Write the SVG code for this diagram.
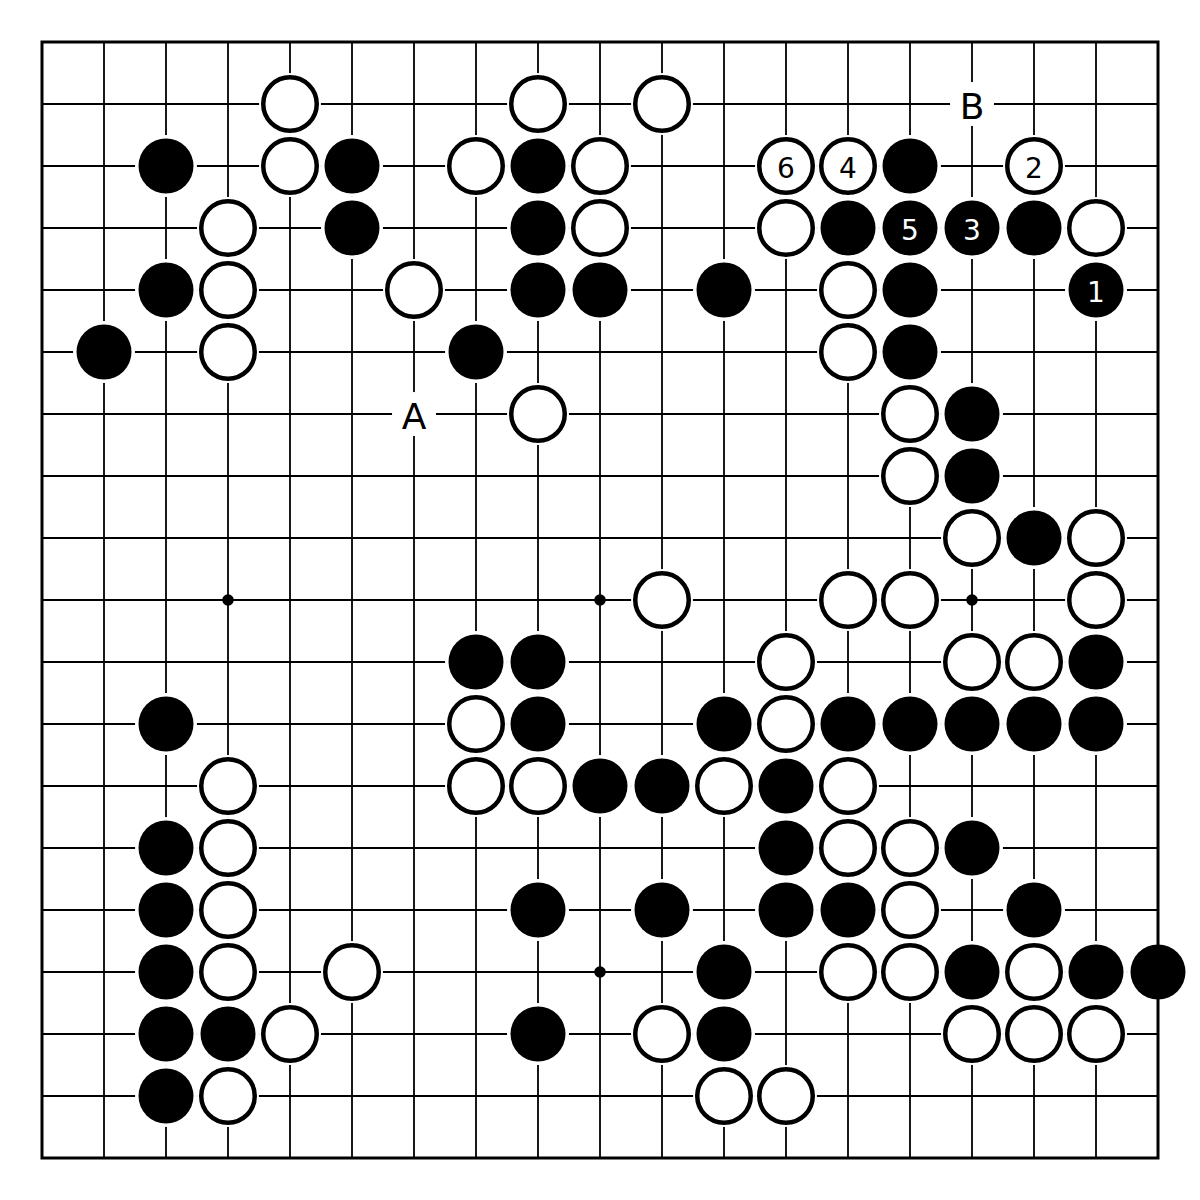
<svg xmlns="http://www.w3.org/2000/svg" xmlns:xlink="http://www.w3.org/1999/xlink" width="1200" height="1200" viewBox="0 0 1200 1200">
<style>
.grid{stroke:#000;stroke-width:1.8;fill:none}
.border{stroke:#000;stroke-width:3;fill:none}
.h{fill:#fff}
.bk{fill:#000}
.wt{fill:#fff;stroke:#000;stroke-width:4.5}
.star{fill:#000}
.num{font-family:"DejaVu Sans",Verdana,sans-serif;font-size:28px;text-anchor:middle}
.nb{fill:#fff}
.nw{fill:#000}
.lbl{font-family:"DejaVu Sans",Verdana,sans-serif;font-size:36px;text-anchor:middle;fill:#000}
</style>
<defs>
<g id="bs"><circle r="31" class="h"/><circle r="27.5" class="bk"/></g>
<g id="ws"><circle r="31" class="h"/><circle r="26.75" class="wt"/></g>
</defs>
<rect width="1200" height="1200" fill="#fff"/>
<g id="connectors">
<path class="grid" d="M104 42V1158M166 42V1158M228 42V1158M290 42V1158M352 42V1158M414 42V1158M476 42V1158M538 42V1158M600 42V1158M662 42V1158M724 42V1158M786 42V1158M848 42V1158M910 42V1158M972 42V1158M1034 42V1158M1096 42V1158M42 104H1158M42 166H1158M42 228H1158M42 290H1158M42 352H1158M42 414H1158M42 476H1158M42 538H1158M42 600H1158M42 662H1158M42 724H1158M42 786H1158M42 848H1158M42 910H1158M42 972H1158M42 1034H1158M42 1096H1158"/>
<circle class="star" cx="228" cy="600" r="5.8"/>
<circle class="star" cx="600" cy="600" r="5.8"/>
<circle class="star" cx="972" cy="600" r="5.8"/>
<circle class="star" cx="600" cy="972" r="5.8"/>
</g>
<g id="label-A"><circle cx="414" cy="414" r="22" class="h"/><text class="lbl" x="414" y="429">A</text></g>
<g id="label-B"><circle cx="972" cy="104" r="22" class="h"/><text class="lbl" x="972" y="119">B</text></g>
<g id="stones">
<g id="w-4-1"><use href="#ws" x="290" y="104"/></g>
<g id="w-8-1"><use href="#ws" x="538" y="104"/></g>
<g id="w-10-1"><use href="#ws" x="662" y="104"/></g>

<g id="b-2-2"><use href="#bs" x="166" y="166"/></g>
<g id="w-4-2"><use href="#ws" x="290" y="166"/></g>
<g id="b-5-2"><use href="#bs" x="352" y="166"/></g>
<g id="w-7-2"><use href="#ws" x="476" y="166"/></g>
<g id="b-8-2"><use href="#bs" x="538" y="166"/></g>
<g id="w-9-2"><use href="#ws" x="600" y="166"/></g>
<g id="w-12-2"><use href="#ws" x="786" y="166"/><text class="num nw" x="786" y="178">6</text></g>
<g id="w-13-2"><use href="#ws" x="848" y="166"/><text class="num nw" x="848" y="178">4</text></g>
<g id="b-14-2"><use href="#bs" x="910" y="166"/></g>
<g id="w-16-2"><use href="#ws" x="1034" y="166"/><text class="num nw" x="1034" y="178">2</text></g>

<g id="w-3-3"><use href="#ws" x="228" y="228"/></g>
<g id="b-5-3"><use href="#bs" x="352" y="228"/></g>
<g id="b-8-3"><use href="#bs" x="538" y="228"/></g>
<g id="w-9-3"><use href="#ws" x="600" y="228"/></g>
<g id="w-12-3"><use href="#ws" x="786" y="228"/></g>
<g id="b-13-3"><use href="#bs" x="848" y="228"/></g>
<g id="b-14-3"><use href="#bs" x="910" y="228"/><text class="num nb" x="910" y="240">5</text></g>
<g id="b-15-3"><use href="#bs" x="972" y="228"/><text class="num nb" x="972" y="240">3</text></g>
<g id="b-16-3"><use href="#bs" x="1034" y="228"/></g>
<g id="w-17-3"><use href="#ws" x="1096" y="228"/></g>

<g id="b-2-4"><use href="#bs" x="166" y="290"/></g>
<g id="w-3-4"><use href="#ws" x="228" y="290"/></g>
<g id="w-6-4"><use href="#ws" x="414" y="290"/></g>
<g id="b-8-4"><use href="#bs" x="538" y="290"/></g>
<g id="b-9-4"><use href="#bs" x="600" y="290"/></g>
<g id="b-11-4"><use href="#bs" x="724" y="290"/></g>
<g id="w-13-4"><use href="#ws" x="848" y="290"/></g>
<g id="b-14-4"><use href="#bs" x="910" y="290"/></g>
<g id="b-17-4"><use href="#bs" x="1096" y="290"/><text class="num nb" x="1096" y="302">1</text></g>

<g id="b-1-5"><use href="#bs" x="104" y="352"/></g>
<g id="w-3-5"><use href="#ws" x="228" y="352"/></g>
<g id="b-7-5"><use href="#bs" x="476" y="352"/></g>
<g id="w-13-5"><use href="#ws" x="848" y="352"/></g>
<g id="b-14-5"><use href="#bs" x="910" y="352"/></g>

<g id="w-8-6"><use href="#ws" x="538" y="414"/></g>
<g id="w-14-6"><use href="#ws" x="910" y="414"/></g>
<g id="b-15-6"><use href="#bs" x="972" y="414"/></g>

<g id="w-14-7"><use href="#ws" x="910" y="476"/></g>
<g id="b-15-7"><use href="#bs" x="972" y="476"/></g>

<g id="w-15-8"><use href="#ws" x="972" y="538"/></g>
<g id="b-16-8"><use href="#bs" x="1034" y="538"/></g>
<g id="w-17-8"><use href="#ws" x="1096" y="538"/></g>

<g id="w-10-9"><use href="#ws" x="662" y="600"/></g>
<g id="w-13-9"><use href="#ws" x="848" y="600"/></g>
<g id="w-14-9"><use href="#ws" x="910" y="600"/></g>
<g id="w-17-9"><use href="#ws" x="1096" y="600"/></g>

<g id="b-7-10"><use href="#bs" x="476" y="662"/></g>
<g id="b-8-10"><use href="#bs" x="538" y="662"/></g>
<g id="w-12-10"><use href="#ws" x="786" y="662"/></g>
<g id="w-15-10"><use href="#ws" x="972" y="662"/></g>
<g id="w-16-10"><use href="#ws" x="1034" y="662"/></g>
<g id="b-17-10"><use href="#bs" x="1096" y="662"/></g>

<g id="b-2-11"><use href="#bs" x="166" y="724"/></g>
<g id="w-7-11"><use href="#ws" x="476" y="724"/></g>
<g id="b-8-11"><use href="#bs" x="538" y="724"/></g>
<g id="b-11-11"><use href="#bs" x="724" y="724"/></g>
<g id="w-12-11"><use href="#ws" x="786" y="724"/></g>
<g id="b-13-11"><use href="#bs" x="848" y="724"/></g>
<g id="b-14-11"><use href="#bs" x="910" y="724"/></g>
<g id="b-15-11"><use href="#bs" x="972" y="724"/></g>
<g id="b-16-11"><use href="#bs" x="1034" y="724"/></g>
<g id="b-17-11"><use href="#bs" x="1096" y="724"/></g>

<g id="w-3-12"><use href="#ws" x="228" y="786"/></g>
<g id="w-7-12"><use href="#ws" x="476" y="786"/></g>
<g id="w-8-12"><use href="#ws" x="538" y="786"/></g>
<g id="b-9-12"><use href="#bs" x="600" y="786"/></g>
<g id="b-10-12"><use href="#bs" x="662" y="786"/></g>
<g id="w-11-12"><use href="#ws" x="724" y="786"/></g>
<g id="b-12-12"><use href="#bs" x="786" y="786"/></g>
<g id="w-13-12"><use href="#ws" x="848" y="786"/></g>

<g id="b-2-13"><use href="#bs" x="166" y="848"/></g>
<g id="w-3-13"><use href="#ws" x="228" y="848"/></g>
<g id="b-12-13"><use href="#bs" x="786" y="848"/></g>
<g id="w-13-13"><use href="#ws" x="848" y="848"/></g>
<g id="w-14-13"><use href="#ws" x="910" y="848"/></g>
<g id="b-15-13"><use href="#bs" x="972" y="848"/></g>

<g id="b-2-14"><use href="#bs" x="166" y="910"/></g>
<g id="w-3-14"><use href="#ws" x="228" y="910"/></g>
<g id="b-8-14"><use href="#bs" x="538" y="910"/></g>
<g id="b-10-14"><use href="#bs" x="662" y="910"/></g>
<g id="b-12-14"><use href="#bs" x="786" y="910"/></g>
<g id="b-13-14"><use href="#bs" x="848" y="910"/></g>
<g id="w-14-14"><use href="#ws" x="910" y="910"/></g>
<g id="b-16-14"><use href="#bs" x="1034" y="910"/></g>

<g id="b-2-15"><use href="#bs" x="166" y="972"/></g>
<g id="w-3-15"><use href="#ws" x="228" y="972"/></g>
<g id="w-5-15"><use href="#ws" x="352" y="972"/></g>
<g id="b-11-15"><use href="#bs" x="724" y="972"/></g>
<g id="w-13-15"><use href="#ws" x="848" y="972"/></g>
<g id="w-14-15"><use href="#ws" x="910" y="972"/></g>
<g id="b-15-15"><use href="#bs" x="972" y="972"/></g>
<g id="w-16-15"><use href="#ws" x="1034" y="972"/></g>
<g id="b-17-15"><use href="#bs" x="1096" y="972"/></g>
<g id="b-18-15"><use href="#bs" x="1158" y="972"/></g>

<g id="b-2-16"><use href="#bs" x="166" y="1034"/></g>
<g id="b-3-16"><use href="#bs" x="228" y="1034"/></g>
<g id="w-4-16"><use href="#ws" x="290" y="1034"/></g>
<g id="b-8-16"><use href="#bs" x="538" y="1034"/></g>
<g id="w-10-16"><use href="#ws" x="662" y="1034"/></g>
<g id="b-11-16"><use href="#bs" x="724" y="1034"/></g>
<g id="w-15-16"><use href="#ws" x="972" y="1034"/></g>
<g id="w-16-16"><use href="#ws" x="1034" y="1034"/></g>
<g id="w-17-16"><use href="#ws" x="1096" y="1034"/></g>

<g id="b-2-17"><use href="#bs" x="166" y="1096"/></g>
<g id="w-3-17"><use href="#ws" x="228" y="1096"/></g>
<g id="w-11-17"><use href="#ws" x="724" y="1096"/></g>
<g id="w-12-17"><use href="#ws" x="786" y="1096"/></g>
</g>
<g id="board-border"><rect class="border" x="42" y="42" width="1116" height="1116"/></g>
</svg>
